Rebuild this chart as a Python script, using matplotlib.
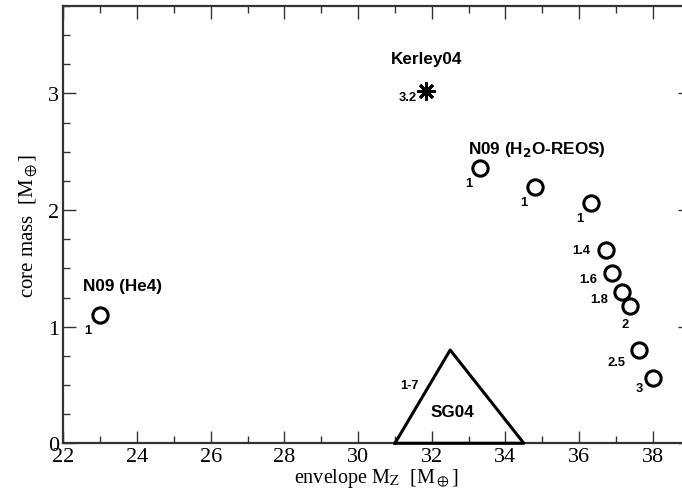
import matplotlib
matplotlib.use("Agg")
import matplotlib.pyplot as plt
from matplotlib.ticker import MultipleLocator

plt.rcParams.update({
    "font.family": "Liberation Serif",
    "mathtext.fontset": "stix",
    "xtick.direction": "in",
    "ytick.direction": "in",
})

# N09 (He4) model
he4_x = [23.0]
he4_y = [1.10]
he4_lab = ["1"]

# N09 (H2O-REOS) models, labelled by parameter value
reos_x = [33.32, 34.81, 36.31, 36.73, 36.90, 37.17, 37.37, 37.64, 38.0]
reos_y = [2.36, 2.20, 2.06, 1.66, 1.46, 1.30, 1.175, 0.80, 0.557]
reos_lab = ["1", "1", "1", "1.4", "1.6", "1.8", "2", "2.5", "3"]
# label offsets in points relative to each circle
reos_off = [(-8, -11), (-8, -11), (-8, -11), (-11, 0), (-11, -4), (-10, -5),
            (-3, -13), (-10, -9), (-10, -7)]

# Kerley04 model
ker_x = [31.85]
ker_y = [3.02]

# SG04 region
sg_x = [31.0, 32.5, 34.5, 31.0]
sg_y = [0.0, 0.8, 0.0, 0.0]

fig = plt.figure(figsize=(6.82, 5.02), dpi=100)
ax = fig.add_axes([0.0931, 0.115, 0.918, 0.871])

ax.plot(sg_x, sg_y, color="black", linewidth=2.2, clip_on=False, zorder=3)
ax.plot(he4_x, he4_y, "o", ms=11, mfc="white", mec="black", mew=2.2, zorder=4)
ax.plot(reos_x, reos_y, "o", ms=11, mfc="none", mec="black", mew=2.2, zorder=4)
ax.plot(ker_x, ker_y, marker=(8, 2, 0), ms=13, color="black", mew=2.0,
        linestyle="none", zorder=4)

bold = dict(family="Liberation Sans", weight="bold", color="black")
small = 9.3
big = 12.3

for x, y, s in zip(he4_x, he4_y, he4_lab):
    ax.annotate(s, (x, y), xytext=(-9, -11), textcoords="offset points",
                ha="center", va="center", fontsize=small, **bold)
for x, y, s, (dx, dy) in zip(reos_x, reos_y, reos_lab, reos_off):
    ax.annotate(s, (x, y), xytext=(dx, dy), textcoords="offset points",
                ha="right" if len(s) > 1 else "center", va="center",
                fontsize=small, **bold)
ax.annotate("3.2", (ker_x[0], ker_y[0]), xytext=(-7, -4),
            textcoords="offset points", ha="right", va="center",
            fontsize=small, **bold)

ax.text(23.6, 1.35, "N09 (He4)", ha="center", va="center", fontsize=big, **bold)
ax.text(31.85, 3.30, "Kerley04", ha="center", va="center", fontsize=big, **bold)
ax.text(34.85, 2.53, r"N09 (H$_\mathbf{2}$O-REOS)", ha="center", va="center",
        fontsize=big, math_fontfamily="dejavusans", **bold)
ax.text(32.55, 0.27, "SG04", ha="center", va="center", fontsize=big, **bold)
ax.text(31.4, 0.50, "1-7", ha="center", va="center", fontsize=small, **bold)

ax.set_xlim(22, 39)
ax.set_ylim(0, 3.75)
ax.xaxis.set_major_locator(MultipleLocator(2))
ax.xaxis.set_minor_locator(MultipleLocator(1))
ax.yaxis.set_major_locator(MultipleLocator(1))
ax.yaxis.set_minor_locator(MultipleLocator(0.25))
ax.tick_params(which="both", top=True, right=True, labelsize=16, width=1.0,
               color="#333333", pad=3)
ax.tick_params(which="major", length=9)
ax.tick_params(which="minor", length=5)
for sp in ax.spines.values():
    sp.set_linewidth(1.6)
    sp.set_color("#333333")

ax.set_xlabel(r"envelope M$_\mathrm{Z}$  [M$_\oplus$]", fontsize=14.5, labelpad=0)
ax.set_ylabel(r"core mass  [M$_\oplus$]", fontsize=15, labelpad=6)

fig.savefig("out.png", dpi=100)
